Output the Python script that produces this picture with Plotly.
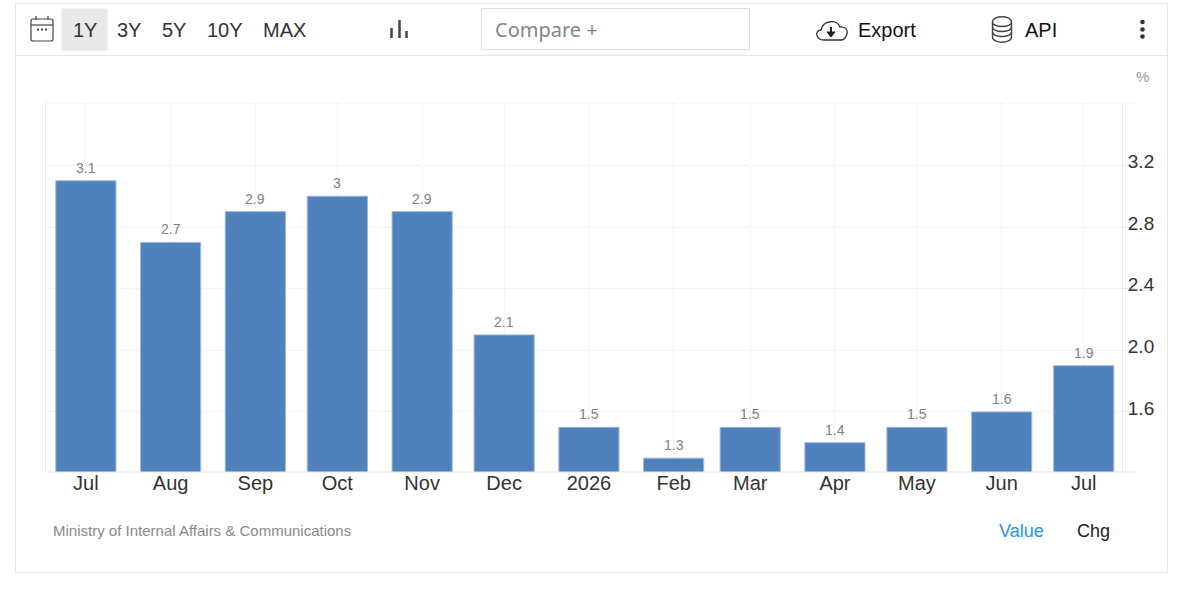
import plotly.graph_objects as go

months = ["2025-07-01", "2025-08-01", "2025-09-01", "2025-10-01", "2025-11-01", "2025-12-01", "2026-01-01",
          "2026-02-01", "2026-03-01", "2026-04-01", "2026-05-01", "2026-06-01", "2026-07-01"]
values = [3.1, 2.7, 2.9, 3, 2.9, 2.1, 1.5, 1.3, 1.5, 1.4, 1.5, 1.6, 1.9]
month_labels = ["Jul", "Aug", "Sep", "Oct", "Nov", "Dec", "2026", "Feb", "Mar", "Apr", "May", "Jun", "Jul"]
y_ticks = [1.6, 2.0, 2.4, 2.8, 3.2]
y_tick_labels = ["1.6", "2.0", "2.4", "2.8", "3.2"]
range_buttons = ["1Y", "3Y", "5Y", "10Y", "MAX"]
range_button_x = [84.5, 129, 174, 224.5, 284]

W, H = 1182, 589
L, R, T, B = 46, 1122, 103, 472
DAY_MS = 86400000
FONT = "Liberation Sans"
LINE = "#e6e6e6"
GRID = "#e9e9e9"
FINE_DOT = "1px,1px"


def px(x):
    return (x - L) / (R - L)


def py(y):
    return (B - y) / (B - T)


def box(x0, y0, x1, y1, line=LINE, fill=None, width=1, dash=None):
    s = dict(type="rect", xref="paper", yref="paper", x0=px(x0), x1=px(x1), y0=py(y0), y1=py(y1),
             line=dict(color=line, width=width, dash=dash), layer="above")
    if fill:
        s["fillcolor"] = fill
    return s


def seg(x0, y0, x1, y1, color=LINE, width=1, dash=None):
    return dict(type="line", xref="paper", yref="paper", x0=px(x0), x1=px(x1), y0=py(y0), y1=py(y1),
                line=dict(color=color, width=width, dash=dash), layer="above")


def dot(cx, cy, r, color="#333333"):
    return dict(type="circle", xref="paper", yref="paper", x0=px(cx - r), x1=px(cx + r), y0=py(cy - r), y1=py(cy + r),
                line=dict(width=0), fillcolor=color, layer="above")


def path(cmds, color="#444", width=1.5, fill=None):
    # cmds in screen pixels, e.g. [("M", 10, 10), ("C", x1, y1, x2, y2, x, y), ("Z",)]
    parts = []
    for c in cmds:
        nums = c[1:]
        conv = [f"{px(n) if i % 2 == 0 else py(n):.5f}" for i, n in enumerate(nums)]
        parts.append(c[0] + " " + " ".join(conv))
    s = dict(type="path", xref="paper", yref="paper", path=" ".join(parts),
             line=dict(color=color, width=width), layer="above")
    if fill:
        s["fillcolor"] = fill
    return s


def label(x, y, text, size, color, anchor="left", family=FONT):
    return dict(xref="paper", yref="paper", x=px(x), y=py(y), text=text, showarrow=False,
                xanchor=anchor, yanchor="middle", font=dict(size=size, color=color, family=family),
                borderpad=0, borderwidth=0)


fig = go.Figure()
fig.add_trace(go.Bar(
    x=months, y=values, width=22 * DAY_MS,
    marker=dict(color="#4f81bd", line=dict(color="#9db8da", width=1)),
    hoverinfo="skip",
))

shapes = [
    # card + toolbar
    box(15.5, 3.5, 1167.5, 572.5),
    seg(15.5, 55.5, 1167.5, 55.5),
    box(62, 9, 107, 50, line="#e8e8e8", fill="#e8e8e8"),
    box(481.5, 8.5, 749.5, 49.5, line="#dddddd"),
    # plot frame
    seg(L, T, 1135, T, color=GRID, dash=FINE_DOT),
    seg(L, B, 1135, B),
    # calendar icon
    path([("M", 33, 19), ("L", 51, 19), ("C", 52, 19, 53, 20, 53, 21), ("L", 53, 39), ("C", 53, 40, 52, 41, 51, 41),
          ("L", 33, 41), ("C", 32, 41, 31, 40, 31, 39), ("L", 31, 21), ("C", 31, 20, 32, 19, 33, 19), ("Z",)], width=1.2),
    seg(31, 25, 53, 25, color="#444", width=1.2),
    seg(36, 16, 36, 20, color="#444", width=1.2),
    seg(48, 16, 48, 20, color="#444", width=1.2),
    seg(37, 29.5, 39, 29.5, color="#444", width=2),
    seg(41, 29.5, 43, 29.5, color="#444", width=2),
    seg(45, 29.5, 47, 29.5, color="#444", width=2),
    # bar chart icon
    seg(391.5, 28, 391.5, 38, color="#444", width=2.5),
    seg(399.5, 20, 399.5, 38, color="#444", width=2.5),
    seg(406.5, 31, 406.5, 38, color="#444", width=2.5),
    # cloud icon
    path([("M", 824, 40), ("C", 816, 40, 814, 31, 821, 30), ("C", 823, 20, 837, 19, 840, 27),
          ("C", 846, 26, 849, 31, 846, 36), ("C", 845, 39, 843, 40, 841, 40), ("Z",)], color="#333", width=1.3),
    seg(831, 27, 831, 34, color="#222", width=2),
    path([("M", 827, 32), ("L", 835, 32), ("L", 831, 37), ("Z",)], color="#222", width=1, fill="#222"),
    # database icon
    path([("M", 992.5, 22), ("C", 992.5, 15, 1011.5, 15, 1011.5, 22), ("C", 1011.5, 28, 992.5, 28, 992.5, 22), ("L", 992.5, 37),
          ("C", 992.5, 44, 1011.5, 44, 1011.5, 37), ("L", 1011.5, 22)], color="#444", width=1.4),
    path([("M", 992.5, 27), ("C", 992.5, 33, 1011.5, 33, 1011.5, 27)], color="#444", width=1.4),
    path([("M", 992.5, 32), ("C", 992.5, 38, 1011.5, 38, 1011.5, 32)], color="#444", width=1.4),
    # kebab dots
    dot(1142.5, 22, 2.3),
    dot(1142.5, 29.5, 2.3),
    dot(1142.5, 36.5, 2.3),
]

annotations = [label(x, 30, t, 20, "#333333", anchor="center") for x, t in zip(range_button_x, range_buttons)]
annotations += [
    label(495, 30, "Compare +", 20, "#7f8790", family="Noto Sans"),
    label(858, 30, "Export", 20, "#111111"),
    label(1025, 30, "API", 20, "#111111"),
    label(1142, 76.5, "%", 15, "#999999", anchor="center"),
    label(53, 530.5, "Ministry of Internal Affairs &amp; Communications", 15, "#8a8a8a"),
    label(1021, 531, "Value", 18, "#2196f3", anchor="center"),
    label(1093, 531, "Chg", 18, "#222222", anchor="center"),
]
# value labels sit a little higher than plotly's own outside bar text
annotations += [dict(x=m, y=v, xref="x", yref="y", text=str(v), showarrow=False, yanchor="bottom", yshift=3,
                     font=dict(size=14, color="#808080", family=FONT)) for m, v in zip(months, values)]

fig.update_layout(
    width=W, height=H, autosize=False,
    margin=dict(l=L, r=W - R, t=T, b=H - B, pad=0),
    paper_bgcolor="white", plot_bgcolor="white",
    showlegend=False, font=dict(family=FONT),
    shapes=shapes, annotations=annotations,
)
fig.update_xaxes(
    type="date", range=["2025-06-16 10:00", "2026-07-15 00:00"],
    tickmode="array", tickvals=months, ticktext=month_labels,
    tickfont=dict(size=20, color="#333333"), ticks="", ticklabelstandoff=-3,
    showgrid=True, gridcolor=GRID, griddash=FINE_DOT, gridwidth=1,
    showline=False, zeroline=False, fixedrange=True,
)
fig.update_yaxes(
    range=[1.21, 3.605], side="right",
    tickmode="array", tickvals=y_ticks, ticktext=y_tick_labels,
    tickfont=dict(size=19, color="#333333"),
    ticks="outside", ticklen=13, tickcolor=LINE, tickwidth=1,
    ticklabelstandoff=-12, ticklabelshift=-4,
    showgrid=True, gridcolor=GRID, griddash=FINE_DOT, gridwidth=1,
    showline=True, linecolor=LINE, mirror=True, zeroline=False, fixedrange=True,
)

fig.write_html("out.html", config=dict(displayModeBar=False),
               post_script="document.body.style.margin='0';document.body.style.overflow='hidden';")
